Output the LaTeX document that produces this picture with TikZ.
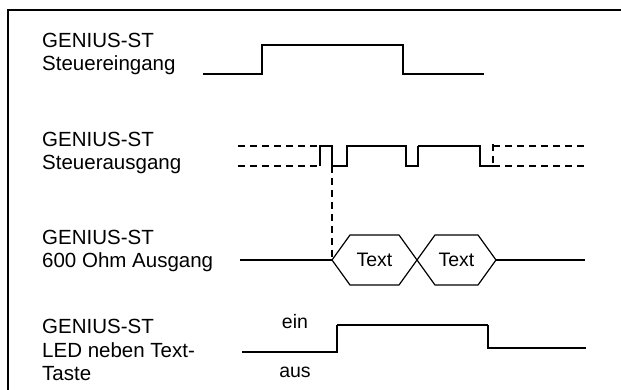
\documentclass[tikz,border=0pt]{standalone}
\usepackage{fontspec}
\setmainfont{Liberation Sans}

\begin{document}
\begin{tikzpicture}[
            x=1pt, y=-1pt,
            declare function={
                tA = 332;
                tB = 417;
                tC = 496;
                hexH = 25;
                hexS = 18;
            },
            lbl/.style={anchor=west, align=left, inner sep=0pt, font=\fontsize{20.5}{23.5}\selectfont},
            txt/.style={inner sep=0pt, font=\fontsize{19.5}{23}\selectfont},
            sig/.style={line width=1.2pt},
            hisig/.style={line width=2pt},
            dsh/.style={line width=1.6pt, dash pattern=on 7pt off 5pt}
        ]

            \useasboundingbox (0,0) rectangle (621,390);
            \draw[line width=2pt] (621,10) -- (8,10) -- (8,390);

            \node[lbl] (inLbl) at (42,54) {GENIUS-ST\\Steuereingang};
            \node[lbl] (outLbl) at (42,153) {GENIUS-ST\\Steuerausgang};
            \node[lbl] (ohmLbl) at (42,251) {GENIUS-ST\\600 Ohm Ausgang};
            \node[lbl] (ledLbl) at (42,350) {GENIUS-ST\\LED neben Text-\\Taste};

            \draw[sig] (203,74) -- (262,74) -- (262,45) -- (403,45) -- (403,74) -- (484,74);

            \draw[dsh] (238,146) -- (320,146);
            \draw[dsh] (238,166) -- (320,166);
            \draw[sig] (320,166) -- (320,146) -- (tA,146) -- (tA,166) -- (347,166) -- (347,146) -- (406,146) -- (406,166) -- (418,166) -- (418,146);
            \draw[hisig] (418,146) -- (480,146) -- (480,166) -- (493,166);
            \draw[dsh] (493,144) -- (493,166);
            \draw[dsh] (493,146) -- (587,146);
            \draw[dsh] (493,166) -- (587,166);
            \draw[dsh] (tA,166) -- (tA,258);

            \draw[sig] (240,260) -- (tA,260);
            \draw[sig] (tA,260) -- (tA+hexS,260-hexH) -- (tB-hexS,260-hexH) -- (tB,260) -- (tB-hexS,260+hexH) -- (tA+hexS,260+hexH) -- cycle;
            \draw[sig] (tB,260) -- (tB+hexS,260-hexH) -- (tC-hexS,260-hexH) -- (tC,260) -- (tC-hexS,260+hexH) -- (tB+hexS,260+hexH) -- cycle;
            \node[txt] (textA) at ({(tA+tB)/2},260) {Text};
            \node[txt] (textB) at ({(tB+tC)/2},260) {Text};
            \draw[hisig] (tC,260) -- (585,260);

            \draw[sig] (242,352) -- (337,352) -- (337,325);
            \draw[hisig] (337,325) -- (488,325);
            \draw[sig] (488,325) -- (488,348) -- (586,348);
            \node[txt] (ein) at (295,322) {ein};
            \node[txt] (aus) at (295,372) {aus};
        \end{tikzpicture}
\end{document}
